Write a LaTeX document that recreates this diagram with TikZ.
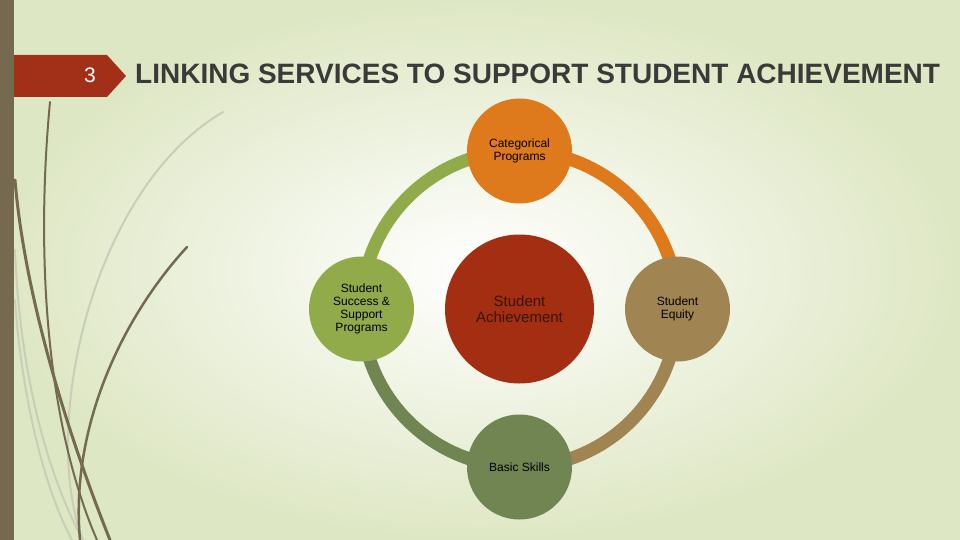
\documentclass[tikz,border=0pt]{standalone}
\usepackage{fontspec}
\setmainfont{Liberation Sans}
\usetikzlibrary{positioning}

\definecolor{bgG}{RGB}{222,231,196}
\definecolor{stripB}{RGB}{117,106,80}
\definecolor{tabR}{RGB}{162,48,24}
\definecolor{titleG}{RGB}{58,58,56}
\definecolor{achR}{RGB}{163,46,18}
\definecolor{achT}{RGB}{60,20,10}
\definecolor{catO}{RGB}{223,122,28}
\definecolor{succG}{RGB}{145,171,75}
\definecolor{equB}{RGB}{160,132,82}
\definecolor{basicG}{RGB}{112,133,82}
\definecolor{leafD}{RGB}{115,106,80}
\definecolor{leafL}{RGB}{200,206,184}

\pgfdeclarelayer{ringlayer}
\pgfsetlayers{ringlayer,main}

\tikzstyle{circ} = [circle, minimum size=105pt, inner sep=0pt, align=center, text=black, font=\fontsize{12}{13}\selectfont]
\tikzstyle{bigcirc} = [circle, minimum size=149pt, inner sep=0pt, align=center, text=achT, font=\fontsize{15}{16}\selectfont]
\tikzstyle{ring} = [line width=13pt]
\tikzstyle{leafdark} = [leafD, line cap=round]
\tikzstyle{leaflight} = [leafL, line cap=round, line width=2pt]

\begin{document}
\begin{tikzpicture}[x=1pt, y=1pt]
\useasboundingbox (0,0) rectangle (960,-540);
% Background
\begin{pgfonlayer}{ringlayer}
\fill[inner color=white, outer color=bgG] (0,0) rectangle (960,-540);
\end{pgfonlayer}

% Leaves
\draw [leaflight] (223,-112) .. controls (90,-190) and (40,-430) .. (83,-540);
\draw [leaflight] (15,-250) .. controls (20,-380) and (50,-480) .. (83,-540);
\draw [leaflight] (15,-300) .. controls (22,-400) and (45,-490) .. (72,-540);
\draw [leafdark, line width=2pt] (50,-102) .. controls (36,-250) and (45,-420) .. (97,-540);
\draw [leafdark, line width=3pt] (15,-180) .. controls (25,-300) and (70,-440) .. (110,-540);
\draw [leafdark, line width=2.5pt] (187,-247) .. controls (120,-320) and (70,-430) .. (80,-540);

% Strip and tab
\fill[tabR] (0,-55) -- (107,-55) -- (126,-76) -- (107,-97) -- (0,-97) -- cycle;
\fill[stripB] (0,0) rectangle (14,-540);
\node (num) [anchor=base, text=white, font=\fontsize{21}{21}\selectfont] at (90,-83) {3};

% Title
\node (title) [anchor=base west, inner sep=0pt, text=titleG, font=\fontsize{28}{28}\selectfont\bfseries] at (135,-84) {LINKING SERVICES TO SUPPORT STUDENT ACHIEVEMENT};

% Cycle
\node (ach) [bigcirc, fill=achR] at (519.5,-309) {Student\\Achievement};
\node (cat) [circ, fill=catO, above of=ach, node distance=158pt] {Categorical\\Programs};
\node (succ) [circ, fill=succG, left of=ach, node distance=158pt] {Student\\Success \&\\Support\\Programs};
\node (equ) [circ, fill=equB, right of=ach, node distance=158pt] {Student\\Equity};
\node (basic) [circ, fill=basicG, below of=ach, node distance=158pt] {Basic Skills};

\begin{pgfonlayer}{ringlayer}
\draw [ring, succG] (succ.center) arc[start angle=180, end angle=90, radius=158];
\draw [ring, catO] (cat.center) arc[start angle=90, end angle=0, radius=158];
\draw [ring, equB] (equ.center) arc[start angle=0, end angle=-90, radius=158];
\draw [ring, basicG] (basic.center) arc[start angle=270, end angle=180, radius=158];
\end{pgfonlayer}
\end{tikzpicture}
\end{document}
